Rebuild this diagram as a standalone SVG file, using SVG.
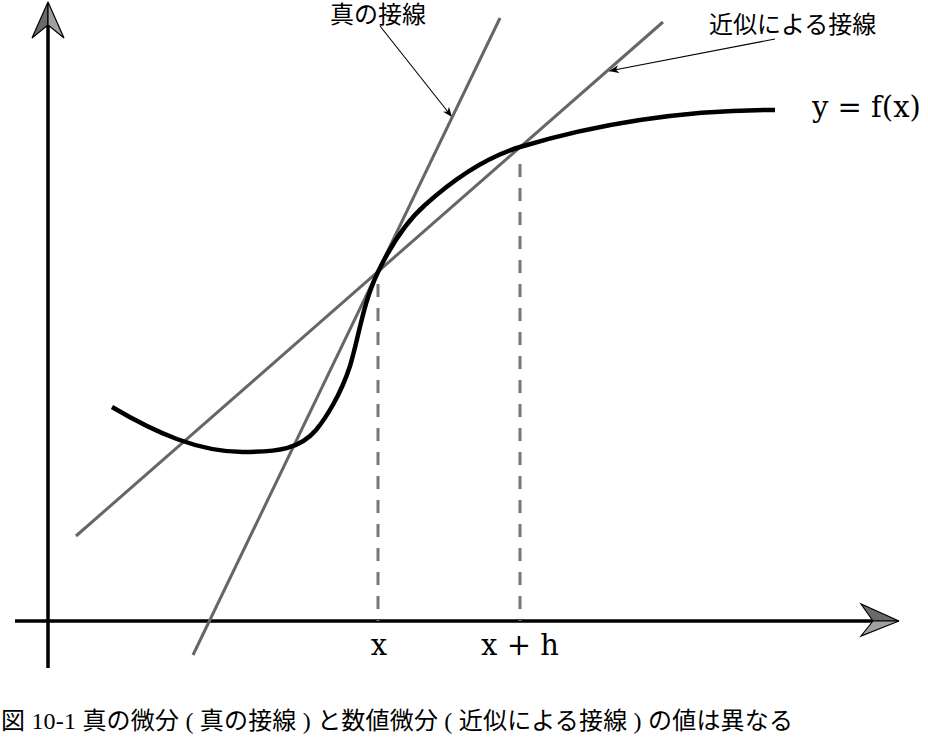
<svg xmlns="http://www.w3.org/2000/svg" width="928" height="740" viewBox="0 0 928 740">
  <style>
    .axis { stroke: #000; stroke-width: 3.5; fill: none; }
    .tan { stroke: #666; stroke-width: 3; fill: none; }
    .dash { stroke: #777; stroke-width: 3; stroke-dasharray: 13 11; fill: none; }
    .curve { stroke: #000; stroke-width: 4.5; fill: none; stroke-linecap: butt; stroke-linejoin: round; }
    .ptr { stroke: #000; stroke-width: 1.1; fill: none; }
    .math { font-family: "DejaVu Serif", "Liberation Serif", serif; font-size: 29px; fill: #000; }
    .jp { font-family: "Liberation Serif", "Noto Sans CJK JP", serif; font-size: 24px; fill: #000; }
    .dark { fill: #6a6a6a; stroke: #000; stroke-width: 1.2; stroke-linejoin: miter; }
    .light { fill: #a0a0a0; stroke: #000; stroke-width: 1.2; stroke-linejoin: miter; }
  </style>
  <defs>
    <marker id="ah" viewBox="0 0 10 8" refX="10" refY="4" markerWidth="10" markerHeight="8" markerUnits="userSpaceOnUse" orient="auto">
      <path d="M0,0 L10,4 L0,8 L3,4 Z" fill="#000"/>
    </marker>
  </defs>

  <g id="axes">
    <line class="axis" x1="48" y1="668" x2="48" y2="25"/>
    <line class="axis" x1="15" y1="621" x2="873" y2="621"/>
    <g id="y-arrow">
      <polygon class="dark" points="48,2 32,38 48,25"/>
      <polygon class="light" points="48,2 48,25 64,38"/>
    </g>
    <g id="x-arrow">
      <polygon class="dark" points="899,621 861,604 873,621"/>
      <polygon class="light" points="899,621 873,621 861,636"/>
    </g>
  </g>

  <g id="connectors">
    <line class="dash" x1="378" y1="284" x2="378" y2="621"/>
    <line class="dash" x1="520" y1="164" x2="520" y2="621"/>
    <line class="ptr" x1="380" y1="26" x2="452" y2="117" marker-end="url(#ah)"/>
    <line class="ptr" x1="775" y1="39" x2="609" y2="71" marker-end="url(#ah)"/>
  </g>

  <g id="true-tangent">
    <line class="tan" x1="193" y1="655" x2="500" y2="18"/>
  </g>
  <g id="approx-tangent">
    <line class="tan" x1="76" y1="536" x2="663" y2="22"/>
  </g>

  <g id="curve">
    <path class="curve" d="M112,407 C156,433 199,452 243,452 C278,452 300,449 316,430 C326,418 341,394 350,366 C359,336.3 363,303 378,272 C392,243 407,221 425,205 C455,178 488,156.6 520,147 C605,121.5 690,110 775,110"/>
  </g>

  <g id="labels">
    <text class="math" x="812" y="117">y = f(x)</text>
    <text class="math" x="379" y="655" text-anchor="middle">x</text>
    <text class="math" x="520" y="655" text-anchor="middle">x + h</text>
    <text class="jp" x="330" y="23">真の接線</text>
    <text class="jp" x="709" y="33">近似による接線</text>
  </g>

  <g id="caption">
    <text class="jp" x="1" y="729" textLength="792" lengthAdjust="spacing">図 10-1 真の微分 ( 真の接線 ) と数値微分 ( 近似による接線 ) の値は異なる</text>
  </g>
</svg>
